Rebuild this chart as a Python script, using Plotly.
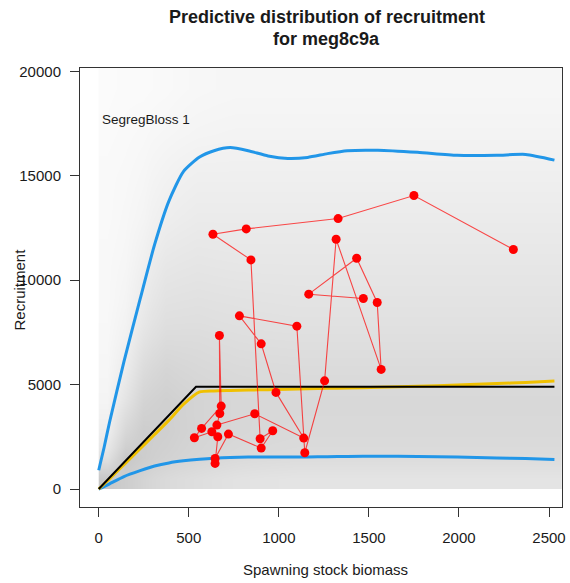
import plotly.graph_objects as go

# ---------------- data ----------------
# fitted quantile curves of predictive recruitment
curve_ssb = [0, 30, 60, 140, 230, 310, 390, 470, 560, 640, 730, 830, 940, 1050,
             1160, 1270, 1380, 1550, 1770, 1990, 2210, 2370, 2530]
upper_q = [900, 2000, 3200, 6100, 9100, 11700, 13800, 15200, 15900, 16200, 16350,
           16200, 15950, 15830, 15880, 16060, 16200, 16220, 16120, 15980, 15980,
           16020, 15750]
lower_q = [0, 120, 250, 600, 880, 1100, 1250, 1350, 1430, 1480, 1510, 1530, 1535,
           1535, 1540, 1550, 1560, 1570, 1560, 1530, 1490, 1460, 1420]
median_q = [0, 240, 490, 1170, 1930, 2610, 3300, 4050, 4650, 4700, 4720, 4740,
            4760, 4780, 4800, 4820, 4840, 4870, 4920, 4980, 5050, 5100, 5170]

# segmented regression (hockey stick) fit
seg_ssb = [0, 540, 2530]
seg_rec = [0, 4900, 4900]

# observed stock-recruitment pairs, in time order
obs_ssb = [2302, 1750, 1329, 819, 634, 845, 896, 966, 902,
           720, 646, 646, 661, 628, 531, 571, 680, 670, 672, 656,
           866, 1138, 984, 902, 781, 1100, 1144, 1254, 1318, 1568, 1546, 1432, 1166, 1469]
obs_rec = [11469, 14053, 12950, 12455, 12200, 10971, 2407, 2790, 1962,
           2632, 1468, 1228, 2502, 2742, 2455, 2903, 3971, 7354, 3615, 3062,
           3603, 2440, 4627, 6952, 8292, 7799, 1737, 5182, 11962, 5727, 8933, 11053, 9330, 9124]

# shading of the grey cloud of predictive draws (grey level, estimated by eye)
cloud_ssb_edges = [0, 100, 200, 300, 450, 650, 900, 1300, 1800, 2300, 2600]
cloud_rec_edges = [0, 1000, 2000, 3500, 5000, 6500, 8000, 10000, 12000, 14000,
                   16000, 18000, 20300]
cloud_grey = [
    [200, 205, 212, 218, 222, 226, 228, 228, 228, 228],
    [225, 200, 205, 210, 214, 218, 220, 220, 220, 220],
    [238, 215, 205, 207, 212, 215, 217, 217, 217, 217],
    [244, 228, 212, 208, 212, 215, 216, 216, 216, 216],
    [246, 236, 220, 213, 216, 218, 219, 219, 219, 219],
    [247, 241, 228, 220, 220, 222, 223, 223, 223, 223],
    [248, 244, 235, 226, 225, 226, 227, 227, 227, 227],
    [248, 246, 240, 232, 230, 231, 231, 231, 231, 231],
    [249, 247, 244, 238, 235, 235, 235, 235, 235, 235],
    [249, 248, 246, 242, 239, 239, 239, 239, 239, 239],
    [250, 249, 248, 246, 244, 243, 243, 243, 243, 243],
    [251, 250, 250, 249, 247, 246, 246, 246, 246, 246],
]

x_ticks = [0, 500, 1000, 1500, 2000, 2500]
y_ticks = [0, 5000, 10000, 15000, 20000]

title_lines = ["Predictive distribution of recruitment", "for meg8c9a"]
model_label = "SegregBloss 1"
x_title = "Spawning stock biomass"
y_title = "Recruitment"

# ---------------- layout constants ----------------
W, H = 570, 583
ML, MR, MT, MB = 80, 4, 68, 76
FONT = "Liberation Sans, Arial, sans-serif"
TXT = "#1a1a1a"

fig = go.Figure()
fig.add_trace(go.Heatmap(x=cloud_ssb_edges, y=cloud_rec_edges, z=cloud_grey,
                         zmin=180, zmax=255, zsmooth="best", showscale=False,
                         colorscale=[[0, "rgb(180,180,180)"], [1, "rgb(255,255,255)"]],
                         hoverinfo="skip"))

blue = "#2196e8"
fig.add_trace(go.Scatter(x=curve_ssb, y=upper_q, mode="lines",
                         line=dict(color=blue, width=3, shape="spline", smoothing=0.6),
                         showlegend=False))
fig.add_trace(go.Scatter(x=curve_ssb, y=lower_q, mode="lines",
                         line=dict(color=blue, width=3, shape="spline", smoothing=0.6),
                         showlegend=False))
fig.add_trace(go.Scatter(x=curve_ssb, y=median_q, mode="lines",
                         line=dict(color="#f0c000", width=3, shape="spline", smoothing=0.6),
                         showlegend=False))
fig.add_trace(go.Scatter(x=seg_ssb, y=seg_rec, mode="lines",
                         line=dict(color="black", width=2), showlegend=False))
fig.add_trace(go.Scatter(x=obs_ssb, y=obs_rec, mode="lines+markers",
                         line=dict(color="rgba(255,0,0,0.7)", width=1.1),
                         marker=dict(color="#ff0000", size=9),
                         showlegend=False))

plot_w = W - ML - MR
plot_h = H - MT - MB


def px_x(px):
    return (px - ML) / plot_w


def px_y(py):
    return (H - MB - py) / plot_h


annotations = [
    dict(text=title_lines[0], x=px_x(329), y=px_y(17), xref="paper", yref="paper",
         showarrow=False, xanchor="center", yanchor="middle",
         font=dict(family=FONT, size=18, color=TXT, weight="bold")),
    dict(text=title_lines[1], x=px_x(329), y=px_y(39), xref="paper", yref="paper",
         showarrow=False, xanchor="center", yanchor="middle",
         font=dict(family=FONT, size=18, color=TXT, weight="bold")),
    dict(text=x_title, x=px_x(328), y=px_y(569), xref="paper", yref="paper",
         showarrow=False, xanchor="center", yanchor="middle",
         font=dict(family=FONT, size=15, color=TXT)),
    dict(text=y_title, x=px_x(18), y=px_y(290), xref="paper", yref="paper",
         showarrow=False, xanchor="center", yanchor="middle", textangle=-90,
         font=dict(family=FONT, size=15, color=TXT)),
    dict(text=model_label, x=px_x(100), y=px_y(119), xref="paper", yref="paper",
         showarrow=False, xanchor="left", yanchor="middle",
         font=dict(family=FONT, size=13.5, color=TXT)),
]

fig.update_layout(
    width=W, height=H,
    margin=dict(l=ML, r=MR, t=MT, b=MB, pad=0),
    paper_bgcolor="white", plot_bgcolor="white",
    font=dict(family=FONT, size=15, color=TXT),
    annotations=annotations,
    showlegend=False,
)
fig.update_xaxes(range=[-104, 2572], tickvals=x_ticks, ticktext=[str(v) for v in x_ticks],
                 ticks="outside", ticklen=9, tickwidth=1, tickcolor="#333",
                 showline=True, mirror=True, linecolor="#333", linewidth=1,
                 showgrid=False, zeroline=False, ticklabelstandoff=8,
                 tickfont=dict(family=FONT, size=15, color=TXT))
fig.update_yaxes(range=[-860, 20160], tickvals=y_ticks, ticktext=[str(v) for v in y_ticks],
                 ticks="outside", ticklen=9, tickwidth=1, tickcolor="#333",
                 showline=True, mirror=True, linecolor="#333", linewidth=1,
                 showgrid=False, zeroline=False, ticklabelstandoff=6,
                 tickfont=dict(family=FONT, size=15, color=TXT))

fig.write_html("out.html")
